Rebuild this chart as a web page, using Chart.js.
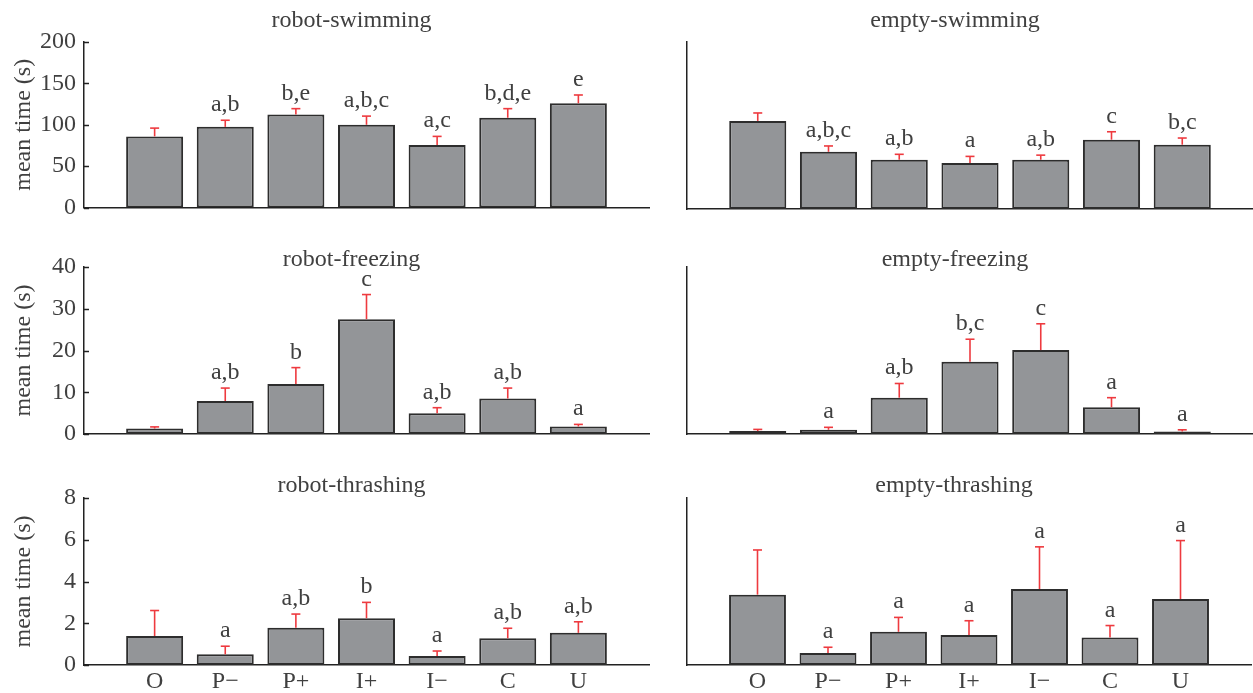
<!DOCTYPE html>
<html><head><meta charset="utf-8">
<script src="https://cdn.jsdelivr.net/npm/chart.js@4.4.1/dist/chart.umd.min.js"></script>
<style>
html,body{margin:0;padding:0;background:#fff;width:1253px;height:693px;overflow:hidden;position:relative}
canvas{position:absolute}
</style></head><body>
<canvas id="c0"></canvas><canvas id="c1"></canvas>
<canvas id="c2"></canvas><canvas id="c3"></canvas>
<canvas id="c4"></canvas><canvas id="c5"></canvas>
<script>
// ---- data ----
const categories = ['O', 'P\u2212', 'P+', 'I+', 'I\u2212', 'C', 'U'];

const robotSwimmingMean = [86, 97.5, 112.5, 100, 75.5, 108.5, 126];
const robotSwimmingErr  = [10, 8, 7, 10.5, 10.5, 11, 10];
const robotSwimmingLetters = ['', 'a,b', 'b,e', 'a,b,c', 'a,c', 'b,d,e', 'e'];

const emptySwimmingMean = [105.5, 68.5, 59, 55, 59, 83, 77];
const emptySwimmingErr  = [9.5, 7, 6.5, 8, 5.5, 9.5, 8];
const emptySwimmingLetters = ['', 'a,b,c', 'a,b', 'a', 'a,b', 'c', 'b,c'];

const robotFreezingMean = [1.3, 7.9, 12.0, 27.5, 5.0, 8.5, 1.8];
const robotFreezingErr  = [0.4, 3.1, 3.9, 5.9, 1.3, 2.5, 0.5];
const robotFreezingLetters = ['', 'a,b', 'b', 'c', 'a,b', 'a,b', 'a'];

const emptyFreezingMean = [0.7, 1.0, 8.7, 17.3, 20.1, 6.4, 0.6];
const emptyFreezingErr  = [0.4, 0.6, 3.4, 5.4, 6.3, 2.3, 0.4];
const emptyFreezingLetters = ['', 'a', 'a,b', 'b,c', 'c', 'a', 'a'];

const robotThrashingMean = [1.39, 0.51, 1.78, 2.24, 0.43, 1.28, 1.54];
const robotThrashingErr  = [1.22, 0.39, 0.66, 0.76, 0.24, 0.48, 0.53];
const robotThrashingLetters = ['', 'a', 'a,b', 'b', 'a', 'a,b', 'a,b'];

const emptyThrashingMean = [3.37, 0.58, 1.59, 1.44, 3.64, 1.32, 3.16];
const emptyThrashingErr  = [2.14, 0.27, 0.69, 0.68, 2.02, 0.57, 2.8];
const emptyThrashingLetters = ['', 'a', 'a', 'a', 'a', 'a', 'a'];

const yMaxByRow  = [200, 40, 8];
const yStepByRow = [50, 10, 2];
const yTitle = 'mean time (s)';

// ---- layout / style ----
const FONT = 'Liberation Serif';
const TEXT = '#404040';
const AXIS = '#222222';
const rows = [
  {top: 0,   height: 230, padTop: 42, xHeight: 21, titleDy: -15.5},
  {top: 230, height: 230, padTop: 37, xHeight: 26, titleDy: -1},
  {top: 460, height: 233, padTop: 38, xHeight: 28, titleDy: -6.5}
];
const sides = {
  left:  {x: 0,   w: 660, yWidth: 84, padRight: 11},
  right: {x: 657, w: 596, yWidth: 30, padRight: 0}
};

const panels = [
  {id:'c0', row:0, side:'left',  title:'robot-swimming',  mean:robotSwimmingMean,  err:robotSwimmingErr,  letters:robotSwimmingLetters},
  {id:'c1', row:0, side:'right', title:'empty-swimming',  mean:emptySwimmingMean,  err:emptySwimmingErr,  letters:emptySwimmingLetters},
  {id:'c2', row:1, side:'left',  title:'robot-freezing',  mean:robotFreezingMean,  err:robotFreezingErr,  letters:robotFreezingLetters},
  {id:'c3', row:1, side:'right', title:'empty-freezing',  mean:emptyFreezingMean,  err:emptyFreezingErr,  letters:emptyFreezingLetters},
  {id:'c4', row:2, side:'left',  title:'robot-thrashing', mean:robotThrashingMean, err:robotThrashingErr, letters:robotThrashingLetters},
  {id:'c5', row:2, side:'right', title:'empty-thrashing', mean:emptyThrashingMean, err:emptyThrashingErr, letters:emptyThrashingLetters}
];

function makeOverlay(p, r, s) {
  return {
    id: 'overlay',
    afterDatasetsDraw(chart) {
      const {ctx, chartArea} = chart;
      const xs = chart.scales.x, ys = chart.scales.y;
      ctx.save();
      // inward ticks on left panels
      if (p.side === 'left') {
        ctx.strokeStyle = AXIS; ctx.lineWidth = 1.5;
        ys.ticks.forEach(t => {
          const py = Math.round(ys.getPixelForValue(t.value)) + 0.5;
          ctx.beginPath(); ctx.moveTo(chartArea.left, py); ctx.lineTo(chartArea.left + 5, py); ctx.stroke();
        });
      }
      // error bars + letters
      ctx.font = '24px "' + FONT + '"';
      ctx.textAlign = 'center';
      ctx.textBaseline = 'alphabetic';
      p.mean.forEach((m, i) => {
        const px = xs.getPixelForValue(i + 1);
        const y0 = ys.getPixelForValue(m);
        const y1 = ys.getPixelForValue(m + p.err[i]);
        ctx.strokeStyle = '#ee3a3f'; ctx.lineWidth = 1.6;
        ctx.beginPath(); ctx.moveTo(px, y0); ctx.lineTo(px, y1); ctx.stroke();
        ctx.beginPath(); ctx.moveTo(px - 4.5, y1); ctx.lineTo(px + 4.5, y1); ctx.stroke();
        if (p.letters[i]) {
          ctx.fillStyle = TEXT;
          ctx.fillText(p.letters[i], px, y1 - 9);
        }
      });
      // panel title
      ctx.fillStyle = TEXT;
      ctx.fillText(p.title, (chartArea.left + chartArea.right) / 2 - 15, chartArea.top + r.titleDy);
      ctx.restore();
    }
  };
}

panels.forEach(p => {
  const r = rows[p.row], s = sides[p.side];
  const cv = document.getElementById(p.id);
  cv.width = s.w; cv.height = r.height;
  cv.style.left = s.x + 'px'; cv.style.top = r.top + 'px';
  cv.style.width = s.w + 'px'; cv.style.height = r.height + 'px';
  const isLeft = p.side === 'left';
  new Chart(cv, {
    type: 'bar',
    data: {
      datasets: [{
        data: p.mean.map((v, i) => ({x: i + 1, y: v})),
        backgroundColor: '#939598',
        borderColor: '#2d2d2d',
        borderWidth: 2,
        borderSkipped: false,
        barPercentage: 0.807,
        categoryPercentage: 1
      }]
    },
    options: {
      responsive: false,
      animation: false,
      events: [],
      devicePixelRatio: 1,
      layout: {padding: {top: r.padTop, right: s.padRight, left: 0, bottom: 0}},
      plugins: {legend: {display: false}, tooltip: {enabled: false}, title: {display: false}},
      scales: {
        x: {
          type: 'linear', min: 0, max: 8, offset: false,
          grid: {display: false, drawTicks: false},
          border: {display: true, color: AXIS, width: 1.5},
          ticks: {
            display: p.row === 2, stepSize: 1, autoSkip: false, maxRotation: 0, padding: 2,
            color: TEXT, font: {family: FONT, size: 24},
            callback: v => categories[v - 1] || ''
          },
          afterFit: sc => { sc.height = r.xHeight; }
        },
        y: {
          min: 0, max: yMaxByRow[p.row],
          grid: {display: false, drawTicks: false},
          border: {display: true, color: AXIS, width: 1.5},
          ticks: {display: isLeft, stepSize: yStepByRow[p.row], padding: 8, color: TEXT, font: {family: FONT, size: 24}},
          title: {display: isLeft, text: yTitle, color: TEXT, font: {family: FONT, size: 24}, padding: {top: 9, bottom: 0}},
          afterFit: sc => { sc.width = s.yWidth; }
        }
      }
    },
    plugins: [makeOverlay(p, r, s)]
  });
});
</script>
</body></html>
